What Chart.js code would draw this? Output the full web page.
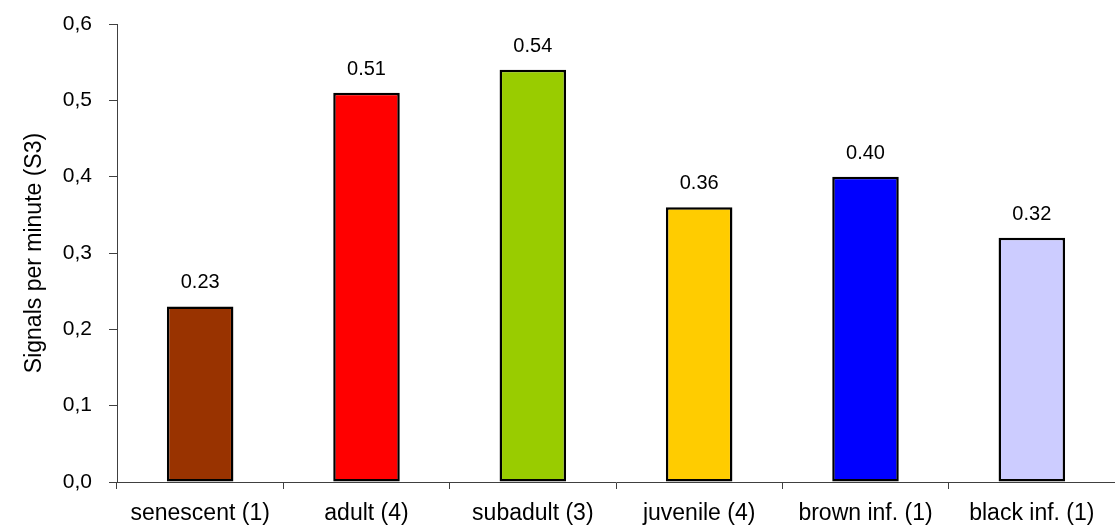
<!DOCTYPE html>
<html>
<head>
<meta charset="utf-8">
<script src="https://cdn.jsdelivr.net/npm/chart.js@4/dist/chart.umd.min.js"></script>
<style>
  html, body { margin: 0; padding: 0; background: #fff; }
  #wrap { width: 1115px; height: 527px; position: relative; }
</style>
</head>
<body>
<div id="wrap"><canvas id="c" width="1115" height="527"></canvas></div>
<script>
// Age classes (number of individuals) and their mean signal rate
const categories = ['senescent (1)', 'adult (4)', 'subadult (3)', 'juvenile (4)', 'brown inf. (1)', 'black inf. (1)'];
const signalsPerMinute = [0.23, 0.51, 0.54, 0.36, 0.40, 0.32];
const barColors = ['#993300', '#FF0000', '#99CC00', '#FFCC00', '#0000FF', '#CCCCFF'];
const yTicks = [0, 0.1, 0.2, 0.3, 0.4, 0.5, 0.6];

const FONT = 'Liberation Sans, Arial, sans-serif';
const AXIS = '#404040';

// Prints each bar's value above it
const valueLabels = {
  id: 'valueLabels',
  afterDatasetsDraw(chart) {
    const ctx = chart.ctx;
    const meta = chart.getDatasetMeta(0);
    ctx.save();
    ctx.font = '20px ' + FONT;
    ctx.fillStyle = '#000';
    ctx.textAlign = 'center';
    ctx.textBaseline = 'alphabetic';
    meta.data.forEach((bar, i) => {
      ctx.fillText(signalsPerMinute[i].toFixed(2), bar.x, bar.y - 18);
    });
    ctx.restore();
  }
};

new Chart(document.getElementById('c'), {
  type: 'bar',
  data: {
    labels: categories,
    datasets: [{
      data: signalsPerMinute,
      backgroundColor: barColors,
      borderColor: '#000',
      borderWidth: 2.5,
      borderSkipped: false,
      categoryPercentage: 0.4,
      barPercentage: 1.0
    }]
  },
  options: {
    responsive: false,
    animation: false,
    layout: { padding: { top: 24, right: 0, bottom: 0, left: 0 } },
    plugins: { legend: { display: false }, tooltip: { enabled: false } },
    scales: {
      x: {
        offset: true,
        grid: { display: true, drawOnChartArea: false, offset: true, tickLength: 7, color: AXIS },
        border: { display: true, color: AXIS, width: 1 },
        ticks: { color: '#000', font: { family: FONT, size: 23 }, padding: 11, maxRotation: 0, autoSkip: false },
        afterFit(scale) { scale.height = 45; scale.paddingLeft = 0; scale.paddingRight = 0; }
      },
      y: {
        min: 0,
        max: 0.6,
        afterBuildTicks(scale) { scale.ticks = yTicks.map(v => ({ value: v })); },
        grid: { display: true, drawOnChartArea: false, tickLength: 8, color: AXIS },
        border: { display: true, color: AXIS, width: 1 },
        ticks: {
          color: '#000',
          font: { family: FONT, size: 21 },
          padding: 17,
          callback: v => Number(v).toFixed(1).replace('.', ',')
        },
        title: {
          display: true,
          text: 'Signals per minute (S3)',
          color: '#000',
          font: { family: FONT, size: 23 },
          padding: { top: 21, bottom: 0 }
        },
        afterFit(scale) { scale.width = 117; scale.paddingTop = 0; scale.paddingBottom = 0; }
      }
    }
  },
  plugins: [valueLabels]
});
</script>
</body>
</html>
